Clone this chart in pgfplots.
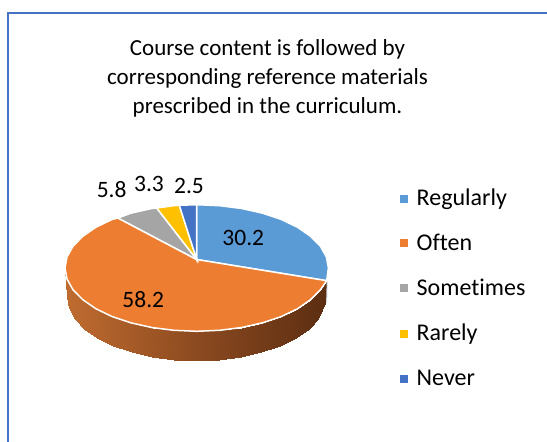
\documentclass[border=0pt]{standalone}
\usepackage{fontspec}
\setmainfont[Ligatures=NoCommon]{Carlito}
\usepackage{pgfplots}
\pgfplotsset{compat=1.18}
\definecolor{cReg}{HTML}{5B9BD5}
\definecolor{cOft}{HTML}{ED7D31}
\definecolor{cSom}{HTML}{A5A5A5}
\definecolor{cRar}{HTML}{FFC000}
\definecolor{cNev}{HTML}{4472C4}
\definecolor{cBorder}{HTML}{4472C4}
\begin{document}
\begin{tikzpicture}[x=1pt,y=1pt]
\begin{axis}[
  scale only axis, width=547pt, height=442pt,
  xmin=0, xmax=547, ymin=0, ymax=442, y dir=reverse,
  hide axis, clip=false, anchor=south west, at={(0,0)},
  colormap={side}{rgb255(0cm)=(192,108,48); rgb255(1cm)=(140,74,32); rgb255(2cm)=(92,46,18)},
  point meta min=65, point meta max=326
]
% frame
\addplot[draw=cBorder, line width=1.3pt, no marks] coordinates {(8,442) (8,13) (547,13)};
% side wall
\addplot[patch, patch type=rectangle, shader=interp, point meta=x] coordinates {
(65.0,268.0) (67.0,279.0) (69.1,308.4) (67.2,297.4)
(67.0,279.0) (72.9,289.6) (75.0,319.0) (69.1,308.4)
(72.9,289.6) (82.7,299.6) (84.5,329.0) (75.0,319.0)
(82.7,299.6) (95.8,308.7) (97.5,338.1) (84.5,329.0)
(95.8,308.7) (112.0,316.5) (113.5,345.9) (97.5,338.1)
(112.0,316.5) (130.8,322.8) (132.0,352.2) (113.5,345.9)
(130.8,322.8) (151.7,327.5) (152.4,356.9) (132.0,352.2)
(151.7,327.5) (173.8,330.3) (174.2,359.7) (152.4,356.9)
(173.8,330.3) (196.7,331.3) (196.7,360.7) (174.2,359.7)
(196.7,331.3) (219.6,330.3) (219.2,359.7) (196.7,360.7)
(219.6,330.3) (241.7,327.5) (241.0,356.9) (219.2,359.7)
(241.7,327.5) (262.6,322.8) (261.4,352.2) (241.0,356.9)
(262.6,322.8) (281.4,316.5) (279.9,345.9) (261.4,352.2)
(281.4,316.5) (297.6,308.7) (295.9,338.1) (279.9,345.9)
(297.6,308.7) (310.7,299.6) (308.9,329.0) (295.9,338.1)
(310.7,299.6) (320.5,289.6) (318.4,319.0) (308.9,329.0)
(320.5,289.6) (326.7,280.7) (325.3,303.0) (318.4,319.0)
};
\addplot[draw={rgb,255:red,205;green,215;blue,225}, line width=1pt, no marks] coordinates {(327.2,281) (326.6,303)};
% top faces
\addplot[fill=cReg, draw=white, line width=1.5pt] coordinates {
(196.7,259.5) (196.7,204.7) (219.6,205.7) (241.7,208.5) (262.6,213.2) (281.4,219.5) (297.6,227.3) (310.7,236.4) (320.5,246.4) (326.4,257.0) (328.4,268.0) (326.7,280.7)
} -- cycle;
\addplot[fill=cOft, draw=white, line width=1.5pt] coordinates {
(196.7,259.5) (326.7,280.7) (320.5,289.6) (310.7,299.6) (297.6,308.7) (281.4,316.5) (262.6,322.8) (241.7,327.5) (219.6,330.3) (196.7,331.3) (173.8,330.3) (151.7,327.5) (130.8,322.8) (112.0,316.5) (95.8,308.7) (82.7,299.6) (72.9,289.6) (67.0,279.0) (65.0,268.0) (67.0,257.0) (72.9,246.4) (82.7,236.4) (95.8,227.3) (112.0,219.5) (118,218)
} -- cycle;
\addplot[fill=cSom, draw=white, line width=1.5pt] coordinates {
(196.7,259.5) (118,218) (130.8,213.2) (151.7,208.5) (156.7,208)
} -- cycle;
\addplot[fill=cRar, draw=white, line width=1.5pt] coordinates {
(196.7,259.5) (156.7,208) (173.8,205.7) (179.3,205.3)
} -- cycle;
\addplot[fill=cNev, draw=white, line width=1.5pt] coordinates {
(196.7,259.5) (179.3,205.3) (196.7,204.7)
} -- cycle;
% legend swatches
\addplot[cReg, only marks, mark=square*, mark size=3.6pt] coordinates {(404,198.3)};
\addplot[cOft, only marks, mark=square*, mark size=3.6pt] coordinates {(404,243)};
\addplot[cSom, only marks, mark=square*, mark size=3.6pt] coordinates {(404,288)};
\addplot[cRar, only marks, mark=square*, mark size=3.6pt] coordinates {(404,333.3)};
\addplot[cNev, only marks, mark=square*, mark size=3.6pt] coordinates {(404,378.3)};
% text
\tikzset{T/.style={font=\fontsize{23}{28}\selectfont, anchor=base, inner sep=0pt},
 L/.style={font=\fontsize{24}{28}\selectfont, anchor=base west, inner sep=0pt},
 D/.style={font=\fontsize{23.5}{28}\selectfont, inner sep=0pt}}
\node[T] at (axis cs:267.5,55) {Course content is followed by};
\node[T] at (axis cs:267.5,84.5) {corresponding reference materials};
\node[T] at (axis cs:267.5,113.5) {prescribed in the curriculum.};
\node[L] at (axis cs:416.5,205) {Regularly};
\node[L] at (axis cs:416.5,250) {Often};
\node[L] at (axis cs:416.5,295) {Sometimes};
\node[L] at (axis cs:416.5,340) {Rarely};
\node[L] at (axis cs:416.5,385) {Never};
\node[D] at (axis cs:243.3,238.3) {30.2};
\node[D] at (axis cs:143.3,299.3) {58.2};
\node[D] at (axis cs:111.7,190) {5.8};
\node[D] at (axis cs:149,184.3) {3.3};
\node[D] at (axis cs:189,185.7) {2.5};
\end{axis}
\pgfresetboundingbox
\path[use as bounding box] (0,0) rectangle (547pt,442pt);
\end{tikzpicture}
\end{document}
